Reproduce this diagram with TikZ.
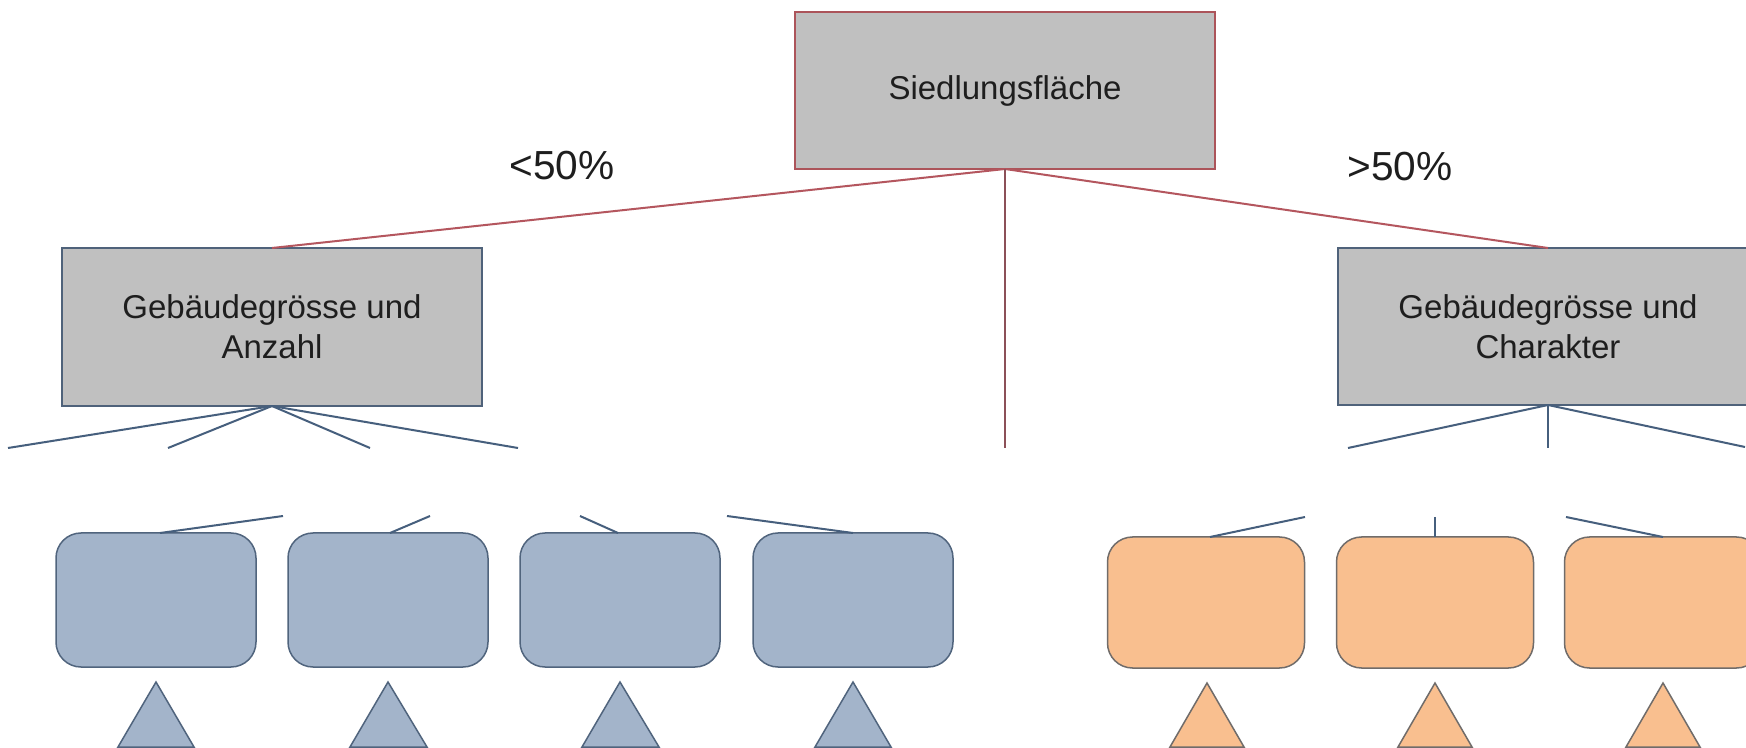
\documentclass[tikz,border=0pt]{standalone}
\usepackage{fontspec}
\setmainfont{Liberation Sans}
\definecolor{boxgray}{RGB}{192,192,192}
\definecolor{topborder}{RGB}{172,84,90}
\definecolor{midborder}{RGB}{79,98,122}
\definecolor{redline}{RGB}{180,86,94}
\definecolor{darkred}{RGB}{140,80,88}
\definecolor{blueline}{RGB}{70,95,125}
\definecolor{bluefill}{RGB}{163,180,202}
\definecolor{blueborder}{RGB}{80,100,125}
\definecolor{orangefill}{RGB}{249,191,143}
\definecolor{orangeborder}{RGB}{112,108,106}
\definecolor{textgray}{RGB}{30,30,30}
\begin{document}
\begin{tikzpicture}[x=0.5pt,y=-0.5pt,
  graybox/.style={draw, fill=boxgray, line width=0.8pt, inner sep=0pt, outer sep=0pt,
    minimum width=210pt, align=center, text=textgray,
    font=\fontsize{16.5}{20}\selectfont},
  bluebox/.style={draw=blueborder, fill=bluefill, line width=0.75pt, rounded corners=12.5pt,
    minimum width=100pt, minimum height=67pt, inner sep=0pt, outer sep=0pt},
  orangebox/.style={draw=orangeborder, fill=orangefill, line width=0.75pt, rounded corners=12.5pt,
    minimum width=98.5pt, minimum height=65.5pt, inner sep=0pt, outer sep=0pt},
  bluetri/.style={draw=blueborder, fill=bluefill, line width=0.75pt, line join=miter},
  orangetri/.style={draw=orangeborder, fill=orangefill, line width=0.75pt, line join=miter},
  redconn/.style={draw=redline, line width=1pt},
  blueconn/.style={draw=blueline, line width=1pt},
  lab/.style={text=textgray, font=\fontsize{20.3}{24}\selectfont, inner sep=0pt}
]
\clip (0,0) rectangle (1746,748);
\fill[white] (0,0) rectangle (1746,748);

% nodes of the upper levels
\node[graybox, draw=topborder, minimum height=78.5pt] (root) at (1005,90.5) {Siedlungsfläche};
\node[graybox, draw=midborder, minimum height=79pt] (left) at (272,327) {Gebäudegrösse und\\Anzahl};
\node[graybox, draw=midborder, minimum height=78.5pt] (right) at (1548,326.5) {Gebäudegrösse und\\Charakter};

\coordinate (rc) at (1005,448);
\draw[redconn] (root.south) -- (left.north);
\draw[redconn] (root.south) -- (right.north);
\draw[redconn, draw=darkred] (root.south) -- (rc);

\node[lab] (lt) at (562,166) {<50\%};
\node[lab] (gt) at (1400,167) {>50\%};

% cut-off upper connectors
\coordinate (l1) at (8,448);
\coordinate (l2) at (168,448);
\coordinate (l3) at (370,448);
\coordinate (l4) at (518,448);
\coordinate (r1) at (1348,448);
\coordinate (r2) at (1548,448);
\coordinate (r3) at (1745,447);
\foreach \p in {l1,l2,l3,l4} \draw[blueconn] (left.south) -- (\p);
\foreach \p in {r1,r2,r3} \draw[blueconn] (right.south) -- (\p);

% lower boxes
\node[bluebox] (b1) at (156,600) {};
\node[bluebox] (b2) at (388,600) {};
\node[bluebox] (b3) at (620,600) {};
\node[bluebox] (b4) at (853,600) {};
\node[orangebox] (o1) at (1206,602.5) {};
\node[orangebox] (o2) at (1435,602.5) {};
\node[orangebox] (o3) at (1663,602.5) {};

% cut-off lower connectors
\coordinate (bu1) at (283,516);
\coordinate (bu2) at (430,516);
\coordinate (bu3) at (580,516);
\coordinate (bu4) at (727,516);
\coordinate (ou1) at (1305,517);
\coordinate (ou2) at (1435,517);
\coordinate (ou3) at (1566,517);
\draw[blueconn] (bu1) -- ([xshift=2pt]b1.north);
\draw[blueconn] (bu2) -- ([xshift=1pt]b2.north);
\draw[blueconn] (bu3) -- ([xshift=-1pt]b3.north);
\draw[blueconn] (bu4) -- (b4.north);
\draw[blueconn] (ou1) -- ([xshift=2pt]o1.north);
\draw[blueconn] (ou2) -- (o2.north);
\draw[blueconn] (ou3) -- (o3.north);

% triangles
\draw[bluetri] (156,682) -- (194,747) -- (118,747) -- cycle;
\draw[bluetri] (388,682) -- (427,747) -- (350,747) -- cycle;
\draw[bluetri] (620,682) -- (659,747) -- (582,747) -- cycle;
\draw[bluetri] (853,682) -- (891,747) -- (815,747) -- cycle;
\draw[orangetri] (1207,683) -- (1244,747) -- (1170,747) -- cycle;
\draw[orangetri] (1435,683) -- (1472,747) -- (1398,747) -- cycle;
\draw[orangetri] (1663,683) -- (1700,747) -- (1626,747) -- cycle;
\end{tikzpicture}
\end{document}
